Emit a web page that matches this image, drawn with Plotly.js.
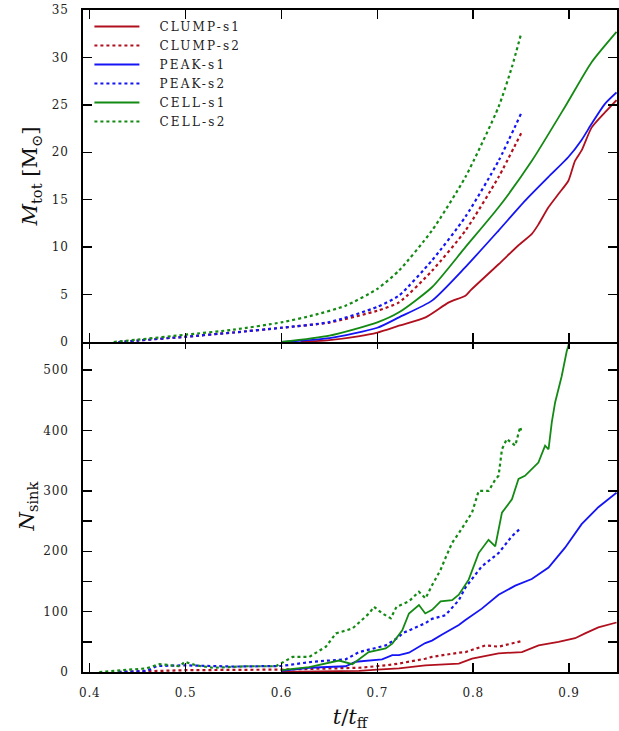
<!DOCTYPE html>
<html>
<head>
<meta charset="utf-8">
<script src="https://cdn.plot.ly/plotly-3.0.1.min.js"></script>
<style>
  html, body { margin: 0; padding: 0; background: #fff; }
  #chart { width: 619px; height: 731px; }
  .legendtext { letter-spacing: 2.2px; }
  .xtick text, .ytick text, .x2tick text, .y2tick text { letter-spacing: 0.8px; }
</style>
</head>
<body>
<div id="chart"></div>
<script>
// ---------- Series names ----------
const seriesNames = ["CLUMP-s1", "CLUMP-s2", "PEAK-s1", "PEAK-s2", "CELL-s1", "CELL-s2"];

// ---------- Top panel: total sink mass M_tot [Msun] vs t/t_ff ----------
const tMassClump1 = [0.62, 0.65, 0.68, 0.70, 0.7226, 0.7503, 0.7746, 0.7919, 0.797, 0.8265, 0.8473, 0.8612, 0.8681, 0.8785, 0.8889, 0.8993, 0.9062, 0.9131, 0.9235, 0.9374, 0.9495];
const massClump1  = [0, 0.2, 0.6, 1.0, 1.72, 2.6, 4.18, 4.88, 5.42, 8.2, 10.2, 11.4, 12.4, 14.2, 15.6, 17.0, 19.1, 20.2, 22.6, 24.2, 25.5];

const tMassS2      = [0.43, 0.45, 0.50, 0.55, 0.60, 0.65, 0.70, 0.7226, 0.757, 0.7919, 0.8265, 0.85];
const massClump2   = [0, 0.15, 0.56, 1.0, 1.5, 2.05, 3.3, 4.18, 7.5, 11.75, 17.4, 22.0];
const massPeak2    = [0, 0.15, 0.56, 1.0, 1.5, 2.1, 3.7, 4.9, 8.6, 13.2, 19.1, 24.1];

const tMassPeak1 = [0.60, 0.65, 0.70, 0.7226, 0.757, 0.7919, 0.8265, 0.8542, 0.8785, 0.8993, 0.9131, 0.9235, 0.9374, 0.9495];
const massPeak1  = [0, 0.4, 1.5, 2.6, 4.36, 7.9, 11.75, 14.9, 17.4, 19.5, 21.3, 23.0, 25.1, 26.3];

const tMassCell1 = [0.60, 0.65, 0.70, 0.7226, 0.757, 0.7919, 0.8265, 0.8612, 0.8958, 0.9235, 0.9495];
const massCell1  = [0, 0.67, 2.07, 3.13, 5.77, 10.0, 14.2, 19.1, 24.8, 29.5, 32.7];

const tMassCell2 = [0.425, 0.45, 0.50, 0.55, 0.60, 0.6325, 0.667, 0.70, 0.7226, 0.757, 0.7919, 0.8265, 0.8404, 0.85];
const massCell2  = [0, 0.25, 0.77, 1.3, 2.07, 2.8, 3.83, 5.6, 7.53, 11.75, 17.4, 24.8, 29.0, 32.5];

// ---------- Bottom panel: number of sinks N_sink vs t/t_ff ----------
const tNClump1 = [0.60, 0.65, 0.681, 0.70, 0.7226, 0.75, 0.7676, 0.785, 0.7988, 0.8265, 0.8508, 0.8682, 0.889, 0.9063, 0.9167, 0.9305, 0.9495];
const nClump1  = [0, 1, 2, 4, 6, 11, 13, 14, 22, 31, 33, 44, 50, 56, 64, 74, 82];

const tNClump2 = [0.43, 0.50, 0.60, 0.681, 0.709, 0.7226, 0.75, 0.757, 0.785, 0.7919, 0.8127, 0.8265, 0.8473, 0.85];
const nClump2  = [0, 3, 4, 7, 11, 14, 22, 25, 32, 33, 44, 42, 50, 51];

const tNPeak1 = [0.60, 0.629, 0.667, 0.6775, 0.705, 0.7156, 0.7226, 0.733, 0.75, 0.757, 0.7676, 0.7745, 0.785, 0.7919, 0.809, 0.8265, 0.8439, 0.8611, 0.8786, 0.8958, 0.9131, 0.9305, 0.9495];
const nPeak1  = [2, 7, 9.5, 17, 21, 28, 28, 32, 48, 52, 62, 68, 78, 86, 105, 128, 143, 154, 173, 206, 245, 273, 297];

const tNPeak2 = [0.43, 0.46, 0.47, 0.50, 0.55, 0.60, 0.6325, 0.6464, 0.667, 0.681, 0.7087, 0.7226, 0.726, 0.7503, 0.757, 0.771, 0.785, 0.7919, 0.809, 0.8265, 0.8404, 0.85];
const nPeak2  = [0, 2, 10, 11, 9, 10, 17, 19, 21, 33, 44, 58, 64, 81, 88, 94, 119, 140, 175, 197, 225, 239];

const tNCell1 = [0.60, 0.629, 0.66, 0.674, 0.691, 0.7087, 0.7156, 0.726, 0.733, 0.7434, 0.75, 0.7572, 0.766, 0.778, 0.785, 0.7953, 0.8057, 0.816, 0.823, 0.83, 0.8404, 0.8473, 0.854, 0.861, 0.868, 0.875, 0.8786, 0.882, 0.8855, 0.8923, 0.8975, 0.901, 0.906];
const nCell1  = [3, 8, 19, 13, 33, 39, 47, 69, 97, 111, 97, 103, 117, 119, 128, 153, 197, 219, 208, 264, 286, 320, 325, 336, 347, 375, 369, 414, 447, 490, 531, 550, 600];

const tNCell2 = [0.41, 0.459, 0.473, 0.485, 0.494, 0.499, 0.511, 0.5285, 0.563, 0.594, 0.6048, 0.6117, 0.629, 0.6464, 0.6568, 0.674, 0.6914, 0.6966, 0.7052, 0.714, 0.72, 0.733, 0.7434, 0.7503, 0.7572, 0.7659, 0.7711, 0.778, 0.785, 0.7988, 0.8057, 0.8161, 0.8231, 0.8265, 0.83, 0.8351, 0.8439, 0.849, 0.85];
const nCell2  = [0, 6, 13, 11, 9.5, 17, 11, 7, 9.5, 9.5, 19, 25, 25, 42, 64, 72, 97, 108, 97, 89, 108, 117, 133, 122, 144, 169, 189, 214, 230, 264, 300, 300, 319, 325, 369, 386, 375, 406, 400];

// ---------- Tick labels ----------
const xTickVals = [0.4, 0.5, 0.6, 0.7, 0.8, 0.9];
const xTickText = ["0.4", "0.5", "0.6", "0.7", "0.8", "0.9"];
const massTickVals = [0, 5, 10, 15, 20, 25, 30, 35];
const massTickText = ["0", "5", "10", "15", "20", "25", "30", "35"];
const nTickVals = [0, 100, 200, 300, 400, 500];
const nTickText = ["0", "100", "200", "300", "400", "500"];

// ---------- Styling ----------
const RED = "#b0101e", BLUE = "#1414f5", GREEN = "#138a13";
const serif = "DejaVu Serif, Liberation Serif, serif";

function tr(x, y, name, color, dash, top, show) {
  return {
    x: x, y: y, name: name, type: "scatter", mode: "lines",
    xaxis: top ? "x2" : "x", yaxis: top ? "y2" : "y",
    line: { color: color, width: dash === "solid" ? 1.8 : 2.2, dash: dash,
            shape: top ? "spline" : "linear", smoothing: 0.6 },
    showlegend: show, legendgroup: name, hoverinfo: "skip"
  };
}

const data = [
  tr(tMassClump1, massClump1, seriesNames[0], RED, "solid", true, true),
  tr(tMassS2, massClump2, seriesNames[1], RED, "dot", true, true),
  tr(tMassPeak1, massPeak1, seriesNames[2], BLUE, "solid", true, true),
  tr(tMassS2, massPeak2, seriesNames[3], BLUE, "dot", true, true),
  tr(tMassCell1, massCell1, seriesNames[4], GREEN, "solid", true, true),
  tr(tMassCell2, massCell2, seriesNames[5], GREEN, "dot", true, true),
  tr(tNClump1, nClump1, seriesNames[0], RED, "solid", false, false),
  tr(tNClump2, nClump2, seriesNames[1], RED, "dot", false, false),
  tr(tNPeak1, nPeak1, seriesNames[2], BLUE, "solid", false, false),
  tr(tNPeak2, nPeak2, seriesNames[3], BLUE, "dot", false, false),
  tr(tNCell1, nCell1, seriesNames[4], GREEN, "solid", false, false),
  tr(tNCell2, nCell2, seriesNames[5], GREEN, "dot", false, false)
];

const tickFont = { family: serif, size: 12, color: "#222" };
const axisCommon = {
  showgrid: false, zeroline: false, showline: true, linecolor: "#000", linewidth: 2,
  mirror: "ticks", ticks: "inside", ticklen: 9, tickwidth: 1.5, tickcolor: "#000",
  tickfont: tickFont
};

// the two panels share their border line: overlap domains by the line width
const plotH = 731 - 10 - 59;
const half = 1 / plotH;

const layout = {
  width: 619, height: 731,
  margin: { l: 83, r: 2, t: 10, b: 59 },
  paper_bgcolor: "#fff", plot_bgcolor: "#fff",
  showlegend: true,
  legend: {
    x: 0.012, y: 0.997, xanchor: "left", yanchor: "top",
    bgcolor: "rgba(0,0,0,0)", borderwidth: 0,
    font: { family: serif, size: 12, color: "#222" },
    itemwidth: 60, tracegroupgap: 0
  },
  xaxis: Object.assign({}, axisCommon, {
    domain: [0, 1], anchor: "y", range: [0.393, 0.95],
    tickmode: "array", tickvals: xTickVals, ticktext: xTickText,
    ticklabelstandoff: 9,
    title: { text: "<i>t</i>/<i>t</i><sub>ff</sub>", font: { family: serif, size: 21, color: "#111" }, standoff: 12 }
  }),
  xaxis2: Object.assign({}, axisCommon, {
    domain: [0, 1], anchor: "y2", matches: "x", range: [0.393, 0.95],
    tickmode: "array", tickvals: xTickVals, ticktext: xTickText,
    showticklabels: false
  }),
  yaxis: Object.assign({}, axisCommon, {
    domain: [0, 0.5 + half], anchor: "x", range: [0, 550],
    tickmode: "array", tickvals: nTickVals, ticktext: nTickText,
    minor: { tickmode: "linear", tick0: 0, dtick: 50, ticks: "inside", ticklen: 9, tickwidth: 1.5, tickcolor: "#000" },
    ticklabelstandoff: 10,
    title: { text: "<i>N</i><sub>sink</sub>", font: { family: serif, size: 21, color: "#111" }, standoff: 3 }
  }),
  yaxis2: Object.assign({}, axisCommon, {
    domain: [0.5 - half, 1], anchor: "x2", range: [0, 35],
    tickmode: "array", tickvals: massTickVals, ticktext: massTickText,
    ticklabelstandoff: 10,
    title: { text: "<i>M</i><sub>tot</sub> [M<sub>⊙</sub>]", font: { family: serif, size: 21, color: "#111" }, standoff: 8 }
  })
};

Plotly.newPlot("chart", data, layout, { staticPlot: true, displayModeBar: false }).then(function (gd) {
  // lengthen the legend line samples to match the reference handle length
  gd.querySelectorAll(".legendlines path").forEach(function (p) {
    p.setAttribute("d", "M5,0h45");
  });
});
</script>
</body>
</html>
